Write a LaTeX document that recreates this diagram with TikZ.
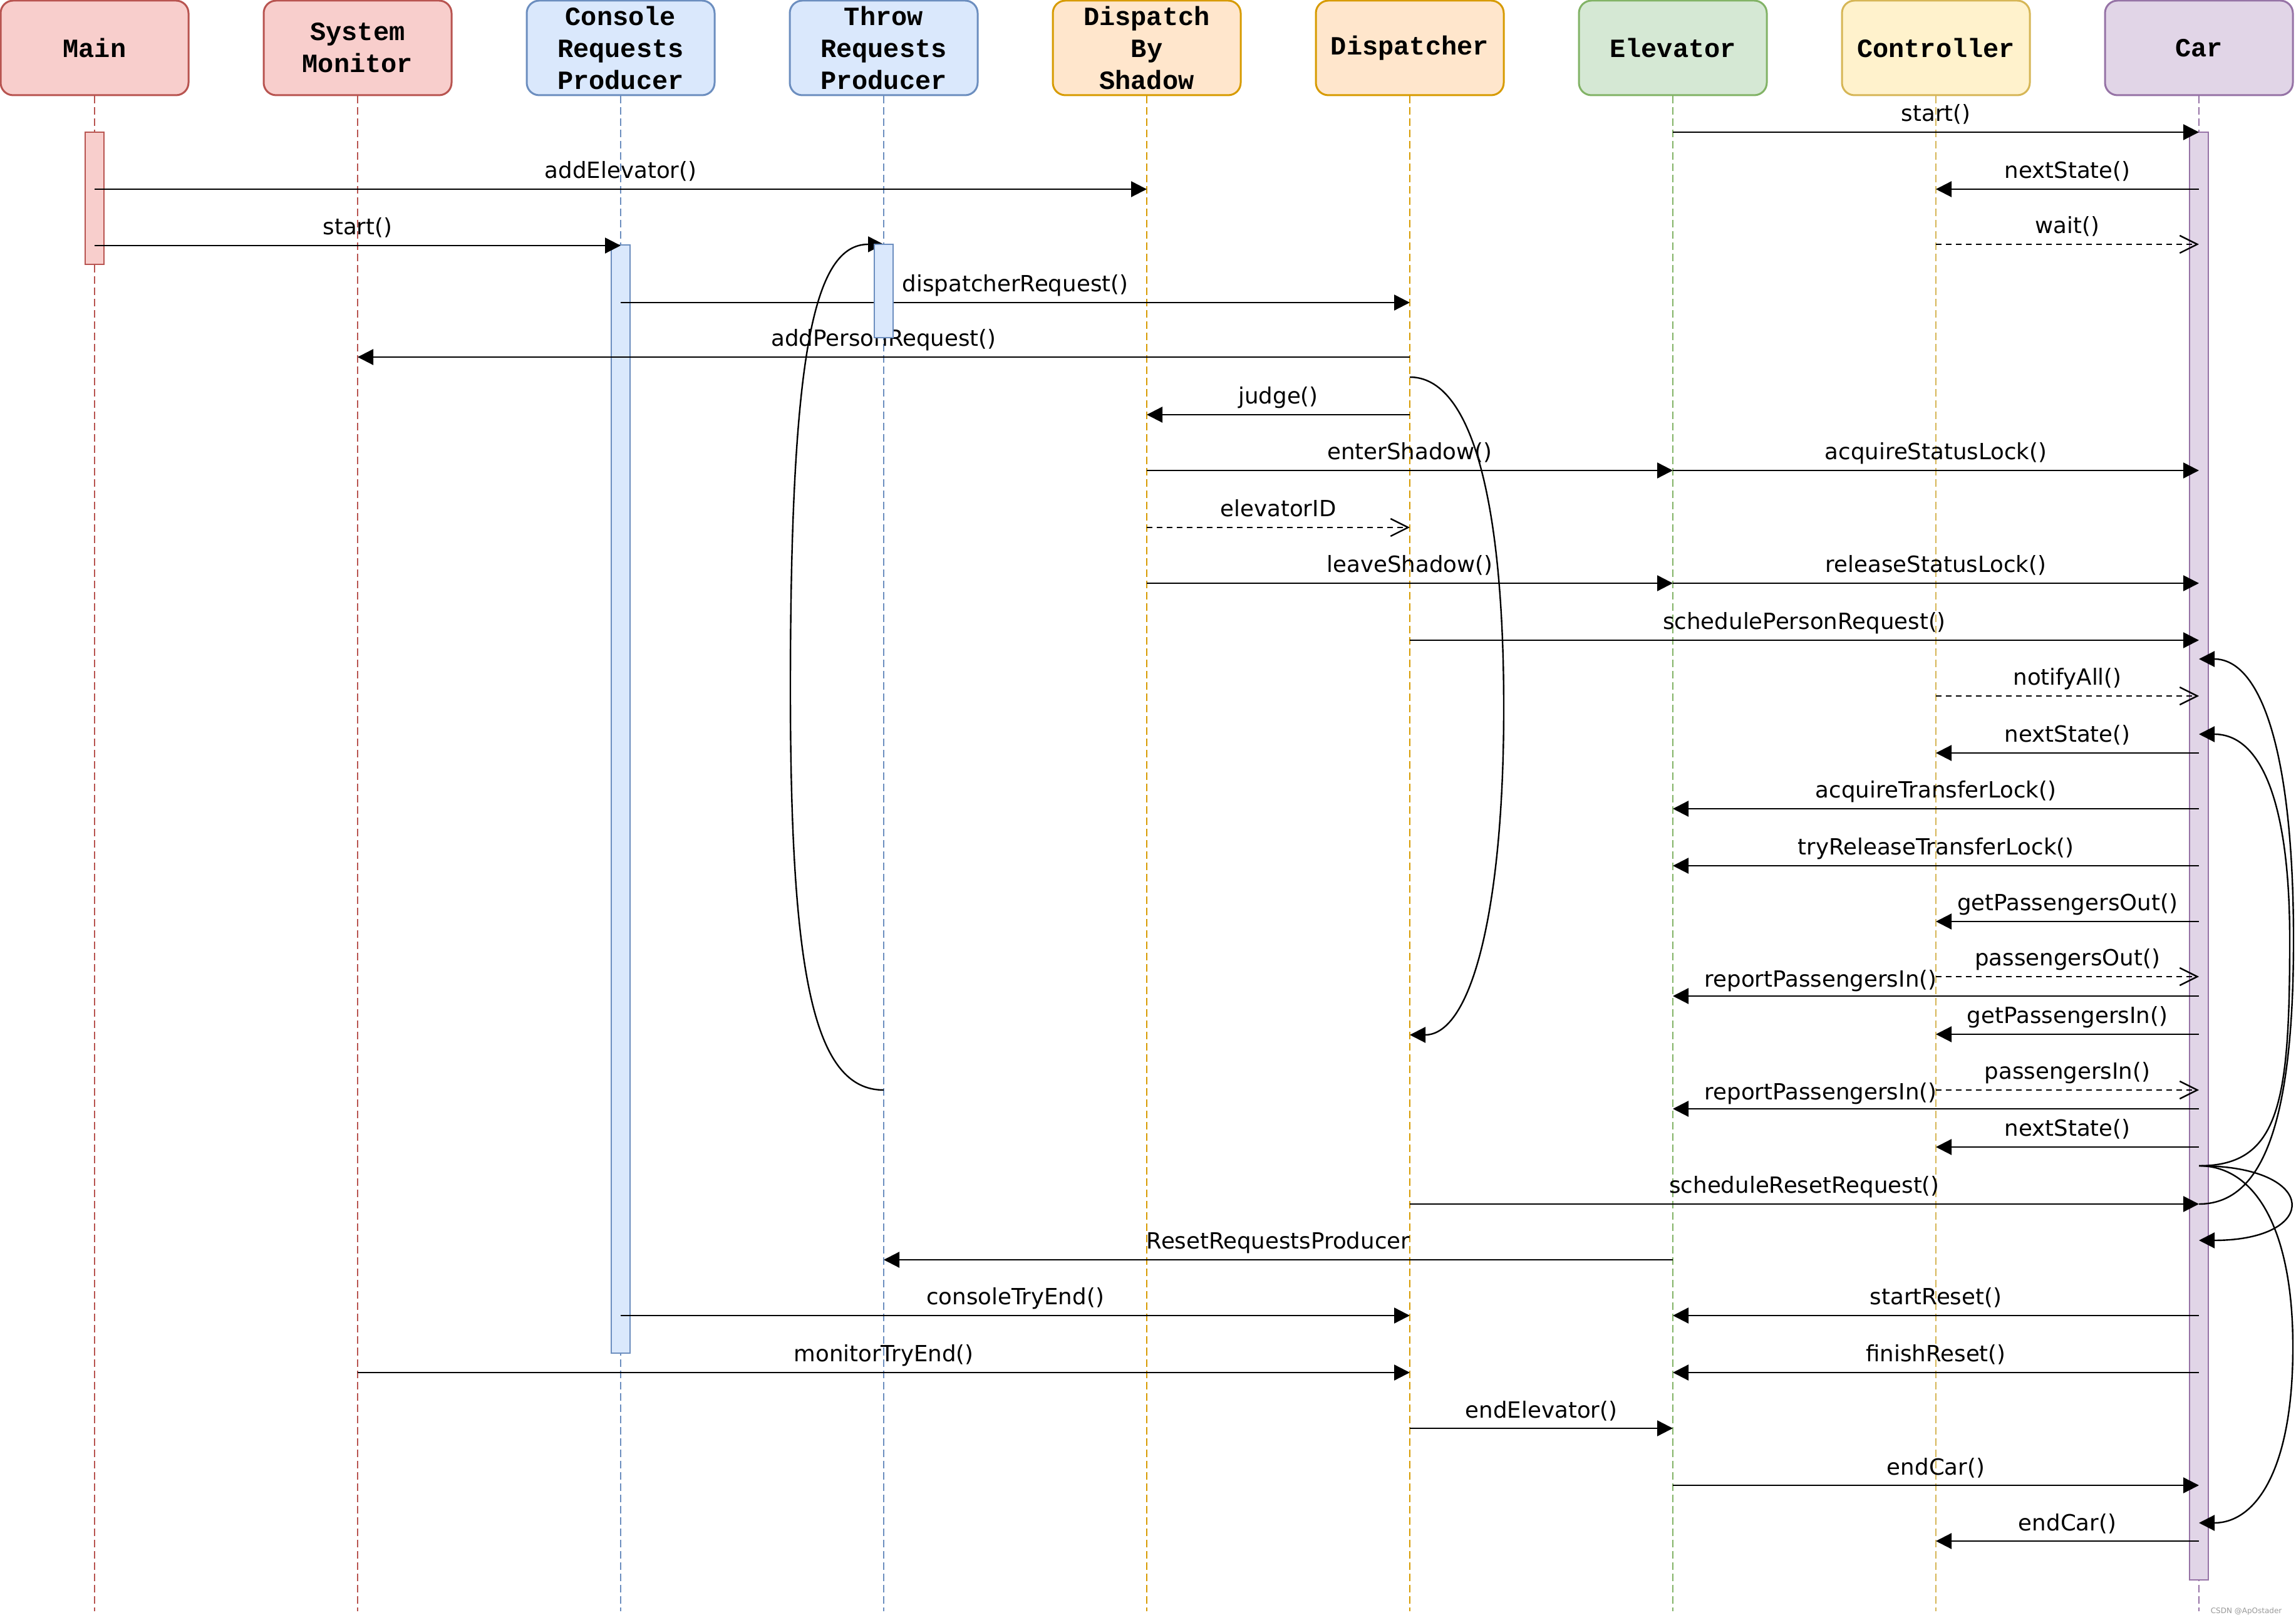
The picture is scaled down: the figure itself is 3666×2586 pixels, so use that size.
\documentclass[tikz,border=0pt]{standalone}
\usepackage{fontspec}
\usetikzlibrary{arrows.meta}
\newfontfamily\lblfont{DejaVu Sans}
\newfontfamily\hdrfont{Liberation Mono}
\definecolor{redF}{HTML}{F8CECC}\definecolor{redS}{HTML}{B85450}
\definecolor{blueF}{HTML}{DAE8FC}\definecolor{blueS}{HTML}{6C8EBF}
\definecolor{orangeF}{HTML}{FFE6CC}\definecolor{orangeS}{HTML}{D79B00}
\definecolor{greenF}{HTML}{D5E8D4}\definecolor{greenS}{HTML}{82B366}
\definecolor{yellowF}{HTML}{FFF2CC}\definecolor{yellowS}{HTML}{D6B656}
\definecolor{purpleF}{HTML}{E1D5E7}\definecolor{purpleS}{HTML}{9673A6}
\tikzset{
  hdr/.style={draw=#1S, fill=#1F, rounded corners=5pt, minimum width=75pt,
    minimum height=37.75pt, line width=0.75pt, align=center, inner sep=0pt,
    font=\hdrfont\bfseries\fontsize{10.5}{12.75}\selectfont},
  life/.style={draw=#1S, line width=0.5pt, dash pattern=on 3pt off 1.5pt},
  bar/.style={draw=#1S, fill=#1F, line width=0.65pt, inner sep=0pt, minimum width=7.5pt},
  msg/.style={line width=0.6pt, -{Triangle[length=6.25pt,width=6.25pt]}},
  ret/.style={line width=0.6pt, dash pattern=on 2.25pt off 1.75pt,
    -{Straight Barb[length=7pt,width=7pt]}},
  lbl/.style={anchor=base, yshift=4.25pt, inner sep=0pt,
    font=\lblfont\fontsize{8.9}{10}\selectfont},
}
\newcommand\callto[5][msg]{\draw[#1] (#2 |- 0,#4) -- node[lbl]{#5} (#3 |- 0,#4);}
\begin{document}
\begin{tikzpicture}[x=0.25pt,y=-0.25pt]
\useasboundingbox[fill=white] (0,0) rectangle (3666,2586);
% headers
\node[hdr=red]    (main) at (151,76.5)  {Main};
\node[hdr=red]    (mon)  at (571,76.5)  {System\\Monitor};
\node[hdr=blue]   (con)  at (991,76.5)  {Console\\Requests\\Producer};
\node[hdr=blue]   (thr)  at (1411,76.5) {Throw\\Requests\\Producer};
\node[hdr=orange] (dbs)  at (1831,76.5) {Dispatch\\By\\Shadow};
\node[hdr=orange] (dis)  at (2251,76.5) {Dispatcher};
\node[hdr=green]  (ele)  at (2671,76.5) {Elevator};
\node[hdr=yellow] (ctl)  at (3091,76.5) {Controller};
\node[hdr=purple] (car)  at (3511,76.5) {Car};
% lifelines
\draw[life=red]    (main.south) -- (main |- 0,2572);
\draw[life=red]    (mon.south)  -- (mon |- 0,2572);
\draw[life=blue]   (con.south)  -- (con |- 0,2572);
\draw[life=blue]   (thr.south)  -- (thr |- 0,2572);
\draw[life=orange] (dbs.south)  -- (dbs |- 0,2572);
\draw[life=orange] (dis.south)  -- (dis |- 0,2572);
\draw[life=green]  (ele.south)  -- (ele |- 0,2572);
\draw[life=yellow] (ctl.south)  -- (ctl |- 0,2572);
\draw[life=purple] (car.south)  -- (car |- 0,2572);
% activation bars
\node[bar=purple, minimum height=577.75pt] (carbar)  at (car |- 0,1366.5) {};
\node[bar=red,    minimum height=52.75pt]  (mainbar) at (main |- 0,316.5) {};
\node[bar=blue,   minimum height=442.25pt] (conbar)  at (con |- 0,1275.5) {};
% messages
\callto{ele}{car}{211}{start()}
\callto{main}{dbs}{302}{addElevator()}
\callto{car}{ctl}{302}{nextState()}
\callto{main}{con}{392}{start()}
\callto[ret]{ctl}{car}{390}{wait()}
\callto{con}{dis}{483}{dispatcherRequest()}
\callto{dis}{mon}{570}{addPersonRequest()}
\callto{dis}{dbs}{662}{judge()}
\callto{dbs}{ele}{751}{enterShadow()}
\callto{ele}{car}{751}{acquireStatusLock()}
\callto[ret]{dbs}{dis}{842}{elevatorID}
\callto{dbs}{ele}{931}{leaveShadow()}
\callto{ele}{car}{931}{releaseStatusLock()}
\callto{dis}{car}{1022}{schedulePersonRequest()}
\callto[ret]{ctl}{car}{1111}{notifyAll()}
\callto{car}{ctl}{1202}{nextState()}
\callto{car}{ele}{1291}{acquireTransferLock()}
\callto{car}{ele}{1382}{tryReleaseTransferLock()}
\callto{car}{ctl}{1471}{getPassengersOut()}
\callto[ret]{ctl}{car}{1559}{passengersOut()}
\draw[msg] (car |- 0,1590) -- node[lbl, pos=0.719, yshift=-0.75pt]{reportPassengersIn()} (ele |- 0,1590);
\callto{car}{ctl}{1651}{getPassengersIn()}
\callto[ret]{ctl}{car}{1740}{passengersIn()}
\draw[msg] (car |- 0,1770) -- node[lbl, pos=0.719, yshift=-0.75pt]{reportPassengersIn()} (ele |- 0,1770);
\callto{car}{ctl}{1831}{nextState()}
\callto{dis}{car}{1922}{scheduleResetRequest()}
\callto{ele}{thr}{2011}{ResetRequestsProducer}
\callto{con}{dis}{2100}{consoleTryEnd()}
\callto{car}{ele}{2100}{startReset()}
\callto{mon}{dis}{2191}{monitorTryEnd()}
\callto{car}{ele}{2191}{finishReset()}
\callto{dis}{ele}{2280}{endElevator()}
\callto{ele}{car}{2371}{endCar()}
\callto{car}{ctl}{2460}{endCar()}
% curved self messages
\draw[msg] (thr |- 0,1740) .. controls (1300,1740) and (1262,1560) .. (1262,1100)
  .. controls (1262,560) and (1300,390) .. (thr |- 0,390);
\draw[msg] (dis |- 0,602) .. controls (2350,602) and (2401,800) .. (2401,1130)
  .. controls (2401,1450) and (2350,1652) .. (dis |- 0,1652);
\draw[msg] (car |- 0,1922) .. controls (3610,1922) and (3662,1800) .. (3662,1500)
  .. controls (3662,1200) and (3610,1052) .. (car |- 0,1052);
\draw[msg] (car |- 0,1861) .. controls (3640,1861) and (3656,1760) .. (3656,1500)
  .. controls (3656,1280) and (3610,1172) .. (car |- 0,1172);
\draw[msg] (car |- 0,1861) .. controls (3705,1861) and (3705,1980) .. (car |- 0,1980);
\draw[msg] (car |- 0,1861) .. controls (3600,1861) and (3661,1960) .. (3661,2150)
  .. controls (3661,2350) and (3600,2431) .. (car |- 0,2431);
% throw bar on top
\node[bar=blue, minimum height=37.25pt] (thrbar) at (thr |- 0,464.5) {};
% watermark
\node[anchor=base west, inner sep=0pt, text=black!40, font=\lblfont\fontsize{3}{3.5}\selectfont] (wm) at (3529,2575) {CSDN @ApOstader};
\end{tikzpicture}
\end{document}
